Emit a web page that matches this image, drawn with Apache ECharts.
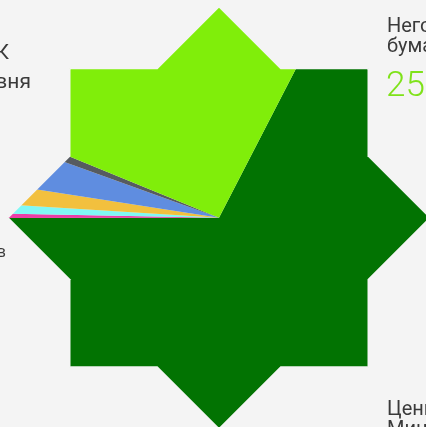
<!DOCTYPE html>
<html>
<head>
<meta charset="utf-8">
<script src="https://cdn.jsdelivr.net/npm/echarts@6/dist/echarts.min.js"></script>
<style>
html,body{margin:0;padding:0;background:#f4f4f4;}
#chart{width:426px;height:427px;}
</style>
</head>
<body>
<div id="chart"></div>
<script>
// Data (percent shares), in drawing order starting clockwise from the upper-right boundary
const categories = [
  'Ценные бумаги Минфина РК',
  'Прочие',
  'Депозиты',
  'Акции',
  'Облигации местного уровня',
  'Иные активы',
  'Негосударственные ценные бумаги'
];
const values = [67.4, 0.33, 0.68, 1.46, 3.06, 0.67, 26.4];
const colors = ['#027302', '#ec3da6', '#80f8f4', '#f2c03e', '#5f8de0', '#565b60', '#80ee0a'];

// Partial labels visible in the cropped picture
const labelTopLeft1 = 'Облигации ЦБ РК';
const labelTopLeft2 = 'местного уровня';
const labelLeft = 'Депозиты банков';
const labelTopRight1 = 'Негосударственные ценные';
const labelTopRight2 = 'бумаги';
const labelTopRightValue = '25%';
const labelBottomRight1 = 'Ценные бумаги';
const labelBottomRight2 = 'Минфина РК';

const BG = '#f4f4f4';
const CX = 219, CY = 217.75;
const R_TIP = 210;                                   // octagram tip radius
const R_NOTCH = R_TIP * Math.cos(Math.PI/4) / Math.cos(Math.PI/8);

// mask polygons outside the 8-pointed star
function pt(angDeg, r){
  const a = angDeg * Math.PI / 180;
  return [CX + r*Math.cos(a), CY + r*Math.sin(a)];
}
const masks = [];
for (let i = 0; i < 8; i++) {
  const a0 = i*45, a1 = (i+1)*45;
  masks.push({
    type: 'polygon', z: 100, silent: true,
    shape: { points: [pt(a0, R_TIP), pt(a0+22.5, R_NOTCH), pt(a1, R_TIP), pt(a1+10, 1200), pt(a0-10, 1200)] },
    style: { fill: BG, stroke: null }
  });
}

const txt = (text, x, y, size, align, color, weight) => ({
  type: 'text', z: 200, silent: true, x: x, y: y,
  style: { text: text, fill: color || '#3a3a3a', fontSize: size, fontWeight: weight || 400, fontFamily: 'Roboto', textAlign: align, textVerticalAlign: 'top' }
});

const chart = echarts.init(document.getElementById('chart'), null, {renderer: 'canvas'});
chart.setOption({
  backgroundColor: BG,
  animation: false,
  series: [{
    type: 'pie',
    center: [CX, CY],
    radius: [0, 240],
    startAngle: 90 - 27.3,
    clockwise: true,
    label: { show: false },
    labelLine: { show: false },
    emphasis: { disabled: true },
    itemStyle: { borderWidth: 0 },
    data: categories.map((c, i) => ({ name: c, value: values[i], itemStyle: { color: colors[i] } }))
  }],
  graphic: {
    elements: masks.concat([
      txt(labelTopLeft1, 9, 43, 21, 'right'),
      txt(labelTopLeft2, 31, 72, 21, 'right'),
      txt(labelLeft, 6, 245, 16, 'right'),
      txt(labelTopRight1, 387, 17, 20, 'left'),
      txt(labelTopRight2, 387, 37, 20, 'left'),
      txt(labelTopRightValue, 386, 70, 35, 'left', '#7fe21a', 300),
      txt(labelBottomRight1, 387, 400, 20, 'left'),
      txt(labelBottomRight2, 387, 420, 20, 'left')
    ])
  }
});
</script>
</body>
</html>
